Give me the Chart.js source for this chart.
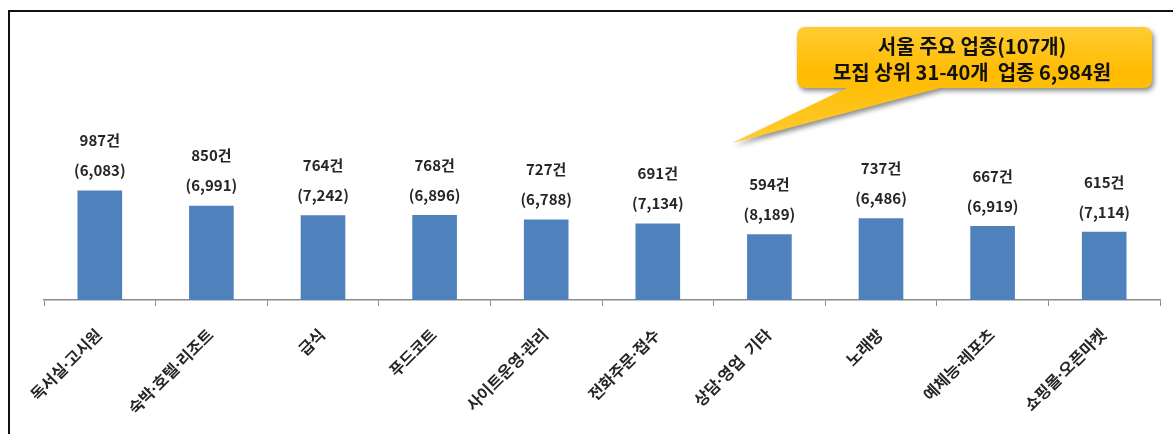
<!DOCTYPE html>
<html>
<head>
<meta charset="utf-8">
<script src="https://cdn.jsdelivr.net/npm/chart.js@4"></script>
<style>
  html, body { margin: 0; padding: 0; background: #fff; }
  #wrap { width: 1173px; height: 434px; }
</style>
</head>
<body>
<div id="wrap"><canvas id="myChart"></canvas></div>
<script>
// data
const categories = ['독서실·고시원', '숙박·호텔·리조트', '급식', '푸드코트', '사이트운영·관리',
    '전화주문·접수', '상담·영업  기타', '노래방', '예체능·레포츠', '쇼핑몰·오픈마켓'];
const postings = [987, 850, 764, 768, 727, 691, 594, 737, 667, 615];   // 건
const avgWage = ['6,083', '6,991', '7,242', '6,896', '6,788', '7,134', '8,189', '6,486', '6,919', '7,114'];
const calloutLines = ['서울 주요 업종(107개)', '모집 상위 31-40개  업종 6,984원'];

const KFONT = "'Noto Sans CJK KR', 'Noto Sans', sans-serif";
const LFONT = "'Noto Sans', 'Noto Sans CJK KR', sans-serif";

// frame + labels + callout
const decorPlugin = {
    id: 'decor',
    beforeDraw(chart) {
        const ctx = chart.ctx;
        ctx.save();
        ctx.strokeStyle = '#111';
        ctx.lineWidth = 2;
        ctx.beginPath();
        ctx.moveTo(9, 434);
        ctx.lineTo(9, 11);
        ctx.lineTo(1173, 11);
        ctx.stroke();
        ctx.restore();
    },
    afterDatasetsDraw(chart) {
        const ctx = chart.ctx;
        const meta = chart.getDatasetMeta(0);
        ctx.save();
        ctx.fillStyle = '#262626';
        ctx.textAlign = 'center';
        ctx.textBaseline = 'middle';
        meta.data.forEach((bar, i) => {
            ctx.font = 'bold 15px ' + KFONT;
            ctx.fillText(postings[i] + '건', bar.x, bar.y - 50);
            ctx.fillText('(' + avgWage[i] + ')', bar.x, bar.y - 20);
        });
        ctx.restore();
    },
    afterDraw(chart) {
        const ctx = chart.ctx;
        const x0 = 797, y0 = 27, x1 = 1152, y1 = 88, r = 9;
        ctx.save();
        const g = ctx.createLinearGradient(0, y0, 0, 143);
        g.addColorStop(0, '#ffcc33');
        g.addColorStop(0.4, '#ffbb00');
        g.addColorStop(1, '#ffcc33');
        ctx.beginPath();
        ctx.moveTo(x0 + r, y0);
        ctx.lineTo(x1 - r, y0);
        ctx.quadraticCurveTo(x1, y0, x1, y0 + r);
        ctx.lineTo(x1, y1 - r);
        ctx.quadraticCurveTo(x1, y1, x1 - r, y1);
        ctx.lineTo(940, y1);
        ctx.lineTo(732, 143);
        ctx.lineTo(847, y1);
        ctx.lineTo(x0 + r, y1);
        ctx.quadraticCurveTo(x0, y1, x0, y1 - r);
        ctx.lineTo(x0, y0 + r);
        ctx.quadraticCurveTo(x0, y0, x0 + r, y0);
        ctx.closePath();
        ctx.shadowColor = 'rgba(0,0,0,0.45)';
        ctx.shadowBlur = 5;
        ctx.shadowOffsetX = 2;
        ctx.shadowOffsetY = 3;
        ctx.fillStyle = g;
        ctx.fill();
        ctx.shadowColor = 'transparent';
        ctx.fillStyle = '#111';
        ctx.textAlign = 'center';
        ctx.textBaseline = 'middle';
        ctx.font = 'bold 20px ' + KFONT;
        ctx.fillText(calloutLines[0], 972, 46);
        ctx.fillText(calloutLines[1], 972, 72);
        ctx.restore();
    }
};

const data = {
    labels: categories,
    datasets: [{
        data: postings,
        backgroundColor: '#4f81bd',
        borderWidth: 0,
        barPercentage: 0.4,
        categoryPercentage: 1.0
    }]
};

const config = {
    type: 'bar',
    data: data,
    options: {
        responsive: true,
        maintainAspectRatio: false,
        animation: false,
        events: [],
        layout: { padding: { top: 167, left: 44, right: 13, bottom: 0 } },
        plugins: { legend: { display: false }, tooltip: { enabled: false } },
        scales: {
            x: {
                offset: true,
                afterFit(scale) { scale.height = 134; },
                grid: {
                    offset: true,
                    drawOnChartArea: false,
                    tickLength: 6,
                    color: '#8c8c8c'
                },
                border: { color: '#8c8c8c', width: 1.5 },
                ticks: {
                    autoSkip: false,
                    minRotation: 45,
                    maxRotation: 45,
                    padding: 20,
                    color: '#262626',
                    font: { family: LFONT, size: 16, weight: 'bold' }
                }
            },
            y: {
                display: false,
                min: 0,
                max: 1200
            }
        }
    },
    plugins: [decorPlugin]
};

const myChart = new Chart(document.getElementById('myChart'), config);
</script>
</body>
</html>
